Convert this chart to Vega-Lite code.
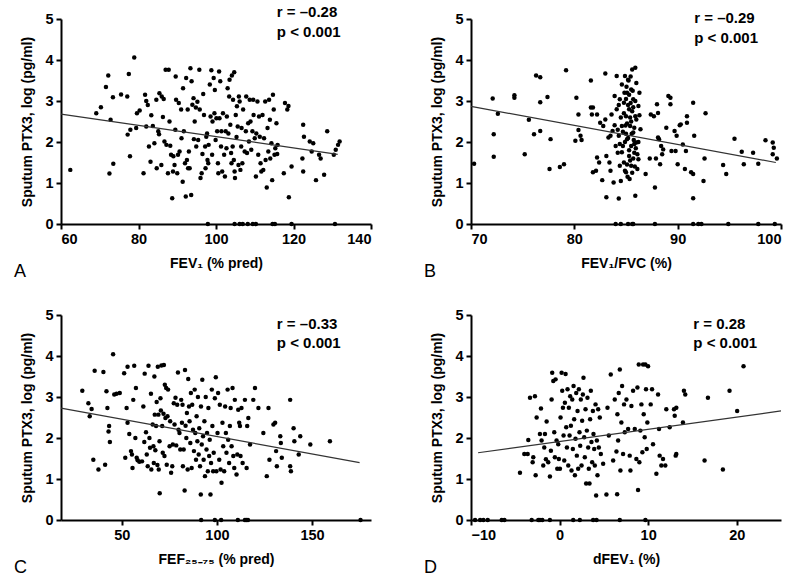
{
"$schema": "https://vega.github.io/schema/vega-lite/v6.json",
"background": "white",
"padding": {"left": 14, "top": 5, "right": 5, "bottom": 5},
"config": {
 "view": {"stroke": null},
 "axis": {"grid": false, "domainColor": "black", "domainWidth": 2, "tickColor": "black", "tickWidth": 2, "tickSize": 5,
  "labelFont": "Liberation Sans", "labelFontWeight": "bold", "labelFontSize": 14.5, "labelColor": "black", "labelPadding": 3,
  "titleFont": "Liberation Sans", "titleFontWeight": "bold", "titleFontSize": 14, "titleColor": "black"},
 "axisY": {"titlePadding": 10},
 "axisX": {"titlePadding": 11}
},
"datasets": {
 "a": [
{"x":62.4,"y":1.32},{"x":69.1,"y":2.70},{"x":70.3,"y":2.85},{"x":71.6,"y":3.34},{"x":72.2,"y":3.62},{"x":72.5,"y":1.23},{"x":72.8,"y":2.54},{"x":73.4,"y":3.09},{"x":73.5,"y":1.47},{"x":75.5,"y":3.16},{"x":77.1,"y":3.11},{"x":77.2,"y":2.18},{"x":77.5,"y":3.66},{"x":77.8,"y":1.65},{"x":77.9,"y":2.30},{"x":78.9,"y":4.06},{"x":79.4,"y":2.34},{"x":79.6,"y":2.70},{"x":80.3,"y":2.77},{"x":81.3,"y":1.24},{"x":81.7,"y":3.15},{"x":82.0,"y":3.00},{"x":82.0,"y":2.38},{"x":82.4,"y":2.90},{"x":82.7,"y":1.89},{"x":83.1,"y":1.52},{"x":83.3,"y":2.65},{"x":83.7,"y":2.39},{"x":84.1,"y":1.97},{"x":84.6,"y":3.03},{"x":84.7,"y":1.36},{"x":85.1,"y":2.26},{"x":85.3,"y":2.19},{"x":85.4,"y":3.19},{"x":85.9,"y":1.44},{"x":86.0,"y":3.11},{"x":86.3,"y":2.61},{"x":86.5,"y":3.05},{"x":86.7,"y":2.01},{"x":87.0,"y":3.76},{"x":87.2,"y":1.93},{"x":87.6,"y":1.24},{"x":87.8,"y":3.76},{"x":88.0,"y":2.50},{"x":88.2,"y":1.91},{"x":88.4,"y":1.69},{"x":88.7,"y":0.63},{"x":88.9,"y":1.28},{"x":89.0,"y":1.65},{"x":89.3,"y":1.44},{"x":89.5,"y":2.30},{"x":89.6,"y":3.60},{"x":89.7,"y":3.03},{"x":90.0,"y":1.24},{"x":90.2,"y":1.69},{"x":90.4,"y":2.95},{"x":90.6,"y":1.77},{"x":91.0,"y":2.79},{"x":91.1,"y":2.09},{"x":91.4,"y":1.03},{"x":91.5,"y":3.31},{"x":91.7,"y":2.26},{"x":92.0,"y":1.48},{"x":92.2,"y":0.67},{"x":92.3,"y":3.56},{"x":92.5,"y":1.56},{"x":92.7,"y":2.79},{"x":92.8,"y":1.36},{"x":93.0,"y":1.77},{"x":93.2,"y":1.36},{"x":93.4,"y":3.80},{"x":93.6,"y":0.71},{"x":93.7,"y":3.48},{"x":93.9,"y":2.91},{"x":94.2,"y":3.07},{"x":94.3,"y":2.07},{"x":94.5,"y":2.50},{"x":94.8,"y":2.84},{"x":94.9,"y":1.89},{"x":95.2,"y":2.98},{"x":95.4,"y":2.05},{"x":95.7,"y":3.76},{"x":95.8,"y":2.79},{"x":96.0,"y":1.12},{"x":96.3,"y":1.24},{"x":96.5,"y":1.71},{"x":96.7,"y":3.17},{"x":96.9,"y":2.66},{"x":97.2,"y":1.89},{"x":97.3,"y":1.36},{"x":97.5,"y":2.13},{"x":97.7,"y":2.21},{"x":97.8,"y":1.56},{"x":98.0,"y":1.48},{"x":98.1,"y":1.93},{"x":98.4,"y":3.40},{"x":98.6,"y":2.62},{"x":98.8,"y":3.75},{"x":99.0,"y":1.69},{"x":99.1,"y":2.50},{"x":99.4,"y":3.56},{"x":99.6,"y":2.70},{"x":99.7,"y":3.27},{"x":99.9,"y":2.05},{"x":100.1,"y":2.58},{"x":100.3,"y":2.26},{"x":100.5,"y":1.48},{"x":100.6,"y":1.24},{"x":100.8,"y":3.72},{"x":100.9,"y":2.58},{"x":101.1,"y":3.48},{"x":101.3,"y":1.89},{"x":101.4,"y":2.26},{"x":101.6,"y":1.28},{"x":101.8,"y":2.70},{"x":102.1,"y":1.69},{"x":102.3,"y":1.16},{"x":102.5,"y":2.26},{"x":102.7,"y":1.85},{"x":102.8,"y":2.62},{"x":103.0,"y":3.31},{"x":103.2,"y":2.21},{"x":103.4,"y":3.11},{"x":103.5,"y":3.52},{"x":103.7,"y":2.42},{"x":103.9,"y":1.73},{"x":104.0,"y":1.48},{"x":104.1,"y":3.62},{"x":104.3,"y":1.89},{"x":104.4,"y":3.03},{"x":104.6,"y":1.56},{"x":104.7,"y":3.70},{"x":104.8,"y":1.28},{"x":104.9,"y":1.12},{"x":105.1,"y":2.66},{"x":105.3,"y":2.12},{"x":105.4,"y":2.87},{"x":105.6,"y":2.38},{"x":105.8,"y":1.44},{"x":105.9,"y":3.11},{"x":106.1,"y":2.99},{"x":106.3,"y":1.32},{"x":106.5,"y":1.89},{"x":106.6,"y":2.34},{"x":106.8,"y":1.48},{"x":107.0,"y":2.79},{"x":107.4,"y":1.77},{"x":107.7,"y":2.26},{"x":107.8,"y":3.11},{"x":108.0,"y":1.73},{"x":108.3,"y":2.46},{"x":108.5,"y":2.01},{"x":108.7,"y":3.03},{"x":108.9,"y":2.50},{"x":109.1,"y":1.81},{"x":109.4,"y":2.26},{"x":109.6,"y":3.03},{"x":109.7,"y":2.66},{"x":110.0,"y":2.09},{"x":110.3,"y":1.16},{"x":110.4,"y":2.21},{"x":110.7,"y":2.99},{"x":110.9,"y":1.69},{"x":111.1,"y":2.62},{"x":111.3,"y":2.13},{"x":111.5,"y":1.48},{"x":111.7,"y":1.28},{"x":112.0,"y":2.66},{"x":112.2,"y":1.32},{"x":112.4,"y":2.09},{"x":112.7,"y":2.99},{"x":112.8,"y":1.56},{"x":113.1,"y":0.89},{"x":113.3,"y":2.34},{"x":113.5,"y":1.77},{"x":113.7,"y":3.03},{"x":113.9,"y":2.54},{"x":114.0,"y":1.60},{"x":114.3,"y":1.97},{"x":114.5,"y":1.07},{"x":114.7,"y":3.15},{"x":114.9,"y":2.79},{"x":115.1,"y":1.69},{"x":115.3,"y":1.85},{"x":115.6,"y":2.46},{"x":115.8,"y":1.71},{"x":115.9,"y":1.93},{"x":117.5,"y":1.24},{"x":117.8,"y":2.95},{"x":118.4,"y":2.79},{"x":118.7,"y":2.88},{"x":118.8,"y":0.65},{"x":119.5,"y":1.40},{"x":122.3,"y":1.60},{"x":122.5,"y":2.42},{"x":122.5,"y":1.28},{"x":122.7,"y":2.13},{"x":124.2,"y":2.01},{"x":125.1,"y":1.97},{"x":124.7,"y":1.77},{"x":125.8,"y":1.07},{"x":126.6,"y":1.69},{"x":127.0,"y":1.60},{"x":127.9,"y":1.20},{"x":128.7,"y":2.26},{"x":130.4,"y":1.69},{"x":130.9,"y":1.81},{"x":131.5,"y":1.93},{"x":131.9,"y":2.01},
{"x":97.9,"y":0},{"x":104.8,"y":0},{"x":106.1,"y":0},{"x":106.9,"y":0},{"x":108.2,"y":0},{"x":109.5,"y":0},{"x":110.3,"y":0},{"x":114.6,"y":0},{"x":115.2,"y":0},{"x":119.5,"y":0},{"x":130.7,"y":0}
 ],
 "a_fit": [{"x":60,"y":2.68},{"x":131.4,"y":1.70}],
 "a_note": [{"x":115.7,"y":5.16,"label":"r = –0.28"},{"x":115.7,"y":4.69,"label":"p < 0.001"}],
 "b": [
{"x":70.3,"y":1.47},{"x":72.1,"y":3.06},{"x":72.2,"y":2.19},{"x":72.2,"y":1.64},{"x":72.6,"y":2.69},{"x":74.2,"y":3.14},{"x":74.2,"y":3.08},{"x":75.2,"y":1.70},{"x":75.6,"y":2.54},{"x":76.3,"y":3.62},{"x":76.7,"y":3.58},{"x":76.7,"y":2.27},{"x":76.7,"y":2.97},{"x":76.1,"y":2.19},{"x":77.4,"y":3.10},{"x":77.6,"y":1.34},{"x":77.7,"y":2.07},{"x":78.6,"y":1.39},{"x":79.0,"y":1.46},{"x":79.2,"y":3.75},{"x":80.1,"y":2.03},{"x":80.2,"y":3.08},{"x":80.4,"y":2.67},{"x":80.4,"y":2.29},{"x":80.6,"y":2.15},{"x":80.7,"y":2.05},{"x":81.6,"y":3.50},{"x":81.6,"y":2.84},{"x":81.7,"y":2.67},{"x":81.8,"y":1.26},{"x":81.8,"y":2.84},{"x":82.1,"y":1.30},{"x":82.2,"y":2.67},{"x":82.2,"y":1.62},{"x":82.4,"y":1.50},{"x":82.5,"y":2.47},{"x":82.7,"y":1.07},{"x":82.8,"y":2.39},{"x":83.0,"y":2.55},{"x":83.0,"y":3.67},{"x":83.1,"y":0.65},{"x":83.1,"y":1.66},{"x":83.3,"y":2.11},{"x":83.4,"y":1.50},{"x":83.5,"y":1.30},{"x":83.5,"y":2.15},{"x":83.6,"y":2.67},{"x":83.7,"y":2.27},{"x":83.8,"y":1.01},{"x":83.9,"y":3.12},{"x":83.9,"y":2.41},{"x":84.0,"y":1.90},{"x":84.1,"y":3.61},{"x":84.1,"y":2.80},{"x":84.2,"y":1.74},{"x":84.3,"y":0.62},{"x":84.3,"y":2.15},{"x":84.4,"y":1.42},{"x":84.4,"y":3.04},{"x":84.5,"y":1.05},{"x":84.6,"y":3.40},{"x":84.6,"y":2.39},{"x":84.7,"y":1.90},{"x":84.8,"y":2.96},{"x":84.8,"y":1.50},{"x":84.9,"y":3.61},{"x":85.0,"y":2.63},{"x":85.0,"y":1.26},{"x":85.1,"y":3.20},{"x":85.1,"y":2.07},{"x":85.2,"y":3.52},{"x":85.3,"y":2.80},{"x":85.3,"y":1.66},{"x":85.4,"y":2.39},{"x":85.5,"y":3.28},{"x":85.5,"y":1.42},{"x":85.6,"y":3.77},{"x":85.7,"y":2.23},{"x":85.7,"y":3.04},{"x":85.8,"y":1.74},{"x":85.9,"y":3.81},{"x":85.9,"y":0.69},{"x":85.9,"y":2.63},{"x":86.0,"y":3.44},{"x":86.0,"y":1.99},{"x":86.1,"y":1.34},{"x":86.2,"y":2.88},{"x":86.2,"y":1.58},{"x":86.3,"y":3.20},{"x":86.4,"y":2.31},
{"x":84.9,"y":2.0},{"x":85.0,"y":2.2},{"x":85.1,"y":2.45},{"x":85.2,"y":2.9},{"x":85.3,"y":1.8},{"x":85.4,"y":2.6},{"x":85.5,"y":1.9},{"x":85.6,"y":2.75},{"x":85.7,"y":1.6},{"x":85.8,"y":2.35},{"x":84.8,"y":2.7},{"x":84.9,"y":1.3},{"x":85.0,"y":3.05},{"x":85.1,"y":1.45},{"x":85.2,"y":2.1},{"x":85.3,"y":3.15},{"x":85.4,"y":1.55},{"x":85.5,"y":2.5},{"x":85.6,"y":1.25},{"x":85.7,"y":2.85},{"x":85.8,"y":1.95},{"x":85.9,"y":3.0},{"x":86.0,"y":2.55},{"x":86.1,"y":1.7},{"x":84.7,"y":2.25},{"x":84.6,"y":1.75},{"x":84.5,"y":2.6},{"x":84.4,"y":1.95},{"x":84.3,"y":2.9},{"x":84.2,"y":2.3},{"x":85.05,"y":3.35},{"x":85.25,"y":3.5},{"x":85.45,"y":2.95},{"x":85.65,"y":3.25},{"x":85.15,"y":1.15},{"x":85.35,"y":1.1},{"x":85.55,"y":2.2},{"x":85.75,"y":2.05},{"x":84.95,"y":2.4},{"x":85.85,"y":1.4},{"x":86.2,"y":2.0},{"x":86.3,"y":2.65},{"x":85.95,"y":1.85},{"x":84.85,"y":3.2},{"x":85.45,"y":3.6},
{"x":86.9,"y":1.22},{"x":87.3,"y":1.60},{"x":87.4,"y":2.67},{"x":87.7,"y":2.63},{"x":87.8,"y":0.89},{"x":87.9,"y":1.60},{"x":88.0,"y":2.92},{"x":88.1,"y":2.71},{"x":88.1,"y":2.11},{"x":88.2,"y":2.07},{"x":88.3,"y":1.46},{"x":88.4,"y":1.90},{"x":88.5,"y":1.70},{"x":88.6,"y":1.82},{"x":88.9,"y":2.35},{"x":89.1,"y":3.12},{"x":89.3,"y":3.08},{"x":89.3,"y":2.92},{"x":89.4,"y":1.78},{"x":89.7,"y":2.27},{"x":89.8,"y":1.78},{"x":89.9,"y":2.15},{"x":90.0,"y":1.46},{"x":90.2,"y":2.41},{"x":90.3,"y":2.43},{"x":90.5,"y":1.94},{"x":90.7,"y":1.34},{"x":90.8,"y":1.78},{"x":90.9,"y":2.47},{"x":90.9,"y":2.63},{"x":91.3,"y":1.26},{"x":91.5,"y":1.22},{"x":91.5,"y":0.63},{"x":91.5,"y":2.96},{"x":91.6,"y":2.15},{"x":92.5,"y":1.05},{"x":92.6,"y":1.60},{"x":92.7,"y":2.70},{"x":94.4,"y":1.44},{"x":94.7,"y":1.22},{"x":95.5,"y":2.08},{"x":96.2,"y":1.76},{"x":96.4,"y":1.46},{"x":97.3,"y":1.74},{"x":97.8,"y":1.47},{"x":98.5,"y":2.04},{"x":99.2,"y":1.70},{"x":99.2,"y":1.99},{"x":99.3,"y":1.86},{"x":99.6,"y":1.60},
{"x":84.0,"y":0},{"x":84.5,"y":0},{"x":85.2,"y":0},{"x":85.6,"y":0},{"x":85.7,"y":0},{"x":87.8,"y":0},{"x":91.5,"y":0},{"x":92.0,"y":0},{"x":92.3,"y":0},{"x":94.9,"y":0},{"x":97.8,"y":0},{"x":99.4,"y":0}
 ],
 "b_fit": [{"x":70,"y":2.87},{"x":99.5,"y":1.50}],
 "b_note": [{"x":91.6,"y":5.02,"label":"r = –0.29"},{"x":91.6,"y":4.53,"label":"p < 0.001"}],
 "c": [
{"x":29.2,"y":3.15},{"x":32.4,"y":2.85},{"x":33.1,"y":2.53},{"x":34.1,"y":2.71},{"x":35.0,"y":1.47},{"x":35.7,"y":3.64},{"x":37.7,"y":1.23},{"x":40.3,"y":3.61},{"x":41.2,"y":1.35},{"x":41.9,"y":3.14},{"x":42.4,"y":2.73},{"x":43.0,"y":2.16},{"x":43.3,"y":2.29},{"x":43.7,"y":1.90},{"x":45.4,"y":4.04},{"x":46.0,"y":3.06},{"x":47.2,"y":3.08},{"x":48.9,"y":3.10},{"x":51.2,"y":3.58},{"x":51.8,"y":1.52},{"x":52.5,"y":2.73},{"x":53.0,"y":2.37},{"x":53.0,"y":3.74},{"x":53.9,"y":2.10},{"x":54.8,"y":1.68},{"x":55.3,"y":1.60},{"x":55.6,"y":1.27},{"x":56.0,"y":2.93},{"x":56.5,"y":3.76},{"x":57.1,"y":2.00},{"x":57.4,"y":3.22},{"x":57.8,"y":1.52},{"x":58.3,"y":1.46},{"x":59.2,"y":1.42},{"x":60.6,"y":1.43},{"x":61.3,"y":2.77},{"x":61.8,"y":1.90},{"x":62.0,"y":3.57},{"x":62.7,"y":2.14},{"x":63.1,"y":1.60},{"x":63.6,"y":1.31},{"x":64.0,"y":3.76},{"x":64.5,"y":2.00},{"x":64.8,"y":1.76},{"x":65.3,"y":3.08},{"x":65.5,"y":1.23},{"x":66.2,"y":2.33},{"x":66.6,"y":1.80},{"x":66.8,"y":1.39},{"x":67.1,"y":3.50},{"x":67.3,"y":2.57},{"x":67.6,"y":1.70},{"x":68.0,"y":2.29},{"x":68.3,"y":2.88},{"x":68.7,"y":1.34},{"x":68.9,"y":3.74},{"x":69.2,"y":2.57},{"x":69.4,"y":1.23},{"x":69.8,"y":1.92},{"x":69.9,"y":0.65},{"x":70.3,"y":2.97},{"x":70.5,"y":2.67},{"x":70.8,"y":3.77},{"x":71.2,"y":2.29},{"x":71.5,"y":1.64},{"x":71.9,"y":2.59},{"x":72.1,"y":3.78},{"x":72.4,"y":1.56},{"x":72.6,"y":3.30},{"x":72.9,"y":2.49},{"x":73.3,"y":3.22},{"x":73.6,"y":1.35},{"x":74.0,"y":2.53},{"x":74.3,"y":3.18},{"x":75.1,"y":1.80},{"x":75.4,"y":2.41},{"x":75.9,"y":1.15},{"x":76.5,"y":1.31},{"x":76.8,"y":1.84},{"x":77.3,"y":2.85},{"x":77.7,"y":2.33},{"x":78.2,"y":2.98},{"x":78.6,"y":1.82},{"x":79.1,"y":2.81},{"x":79.5,"y":3.60},{"x":79.8,"y":2.20},{"x":80.3,"y":2.12},{"x":80.7,"y":1.72},{"x":81.2,"y":2.93},{"x":81.6,"y":2.37},{"x":81.9,"y":2.81},{"x":82.1,"y":1.31},{"x":82.5,"y":1.72},{"x":83.0,"y":0.72},{"x":83.2,"y":3.66},{"x":83.5,"y":2.30},{"x":83.9,"y":2.00},{"x":84.2,"y":2.61},{"x":84.6,"y":1.23},{"x":84.9,"y":3.44},{"x":85.3,"y":2.77},{"x":85.6,"y":2.41},{"x":86.0,"y":1.88},{"x":86.3,"y":3.10},{"x":86.7,"y":1.27},{"x":87.0,"y":2.81},{"x":87.4,"y":2.20},{"x":87.9,"y":1.68},{"x":88.3,"y":3.18},{"x":88.6,"y":2.12},{"x":89.0,"y":1.47},{"x":89.3,"y":2.53},{"x":89.7,"y":1.92},{"x":90.0,"y":3.00},{"x":90.4,"y":1.60},{"x":90.7,"y":2.24},{"x":91.1,"y":1.31},{"x":91.5,"y":0.62},{"x":91.6,"y":2.77},{"x":92.0,"y":1.84},{"x":92.3,"y":3.42},{"x":92.7,"y":2.04},{"x":93.0,"y":1.47},{"x":93.4,"y":2.41},{"x":93.7,"y":1.07},{"x":94.1,"y":3.00},{"x":94.5,"y":1.72},{"x":94.8,"y":2.12},{"x":95.2,"y":1.19},{"x":95.5,"y":2.73},{"x":95.9,"y":1.56},{"x":96.2,"y":1.96},{"x":96.6,"y":0.62},{"x":96.9,"y":1.39},{"x":97.3,"y":3.18},{"x":97.6,"y":2.29},{"x":98.0,"y":1.19},{"x":98.3,"y":1.64},{"x":98.9,"y":2.97},{"x":99.4,"y":3.48},{"x":99.7,"y":1.19},{"x":100.3,"y":2.12},{"x":100.6,"y":3.10},{"x":101.2,"y":1.47},{"x":101.5,"y":2.81},{"x":101.9,"y":1.23},{"x":102.4,"y":0.91},{"x":102.9,"y":2.37},{"x":103.3,"y":1.80},{"x":103.8,"y":1.19},{"x":104.3,"y":2.77},{"x":104.7,"y":2.12},{"x":105.0,"y":1.64},{"x":105.6,"y":3.18},{"x":105.9,"y":1.96},{"x":106.4,"y":1.39},{"x":106.8,"y":2.29},{"x":107.2,"y":2.73},{"x":107.7,"y":1.80},{"x":108.2,"y":3.22},{"x":108.6,"y":1.56},{"x":109.1,"y":1.27},{"x":109.4,"y":2.93},{"x":110.3,"y":1.11},{"x":110.7,"y":1.60},{"x":111.2,"y":2.69},{"x":111.7,"y":2.37},{"x":112.1,"y":2.29},{"x":112.4,"y":1.56},{"x":112.9,"y":2.73},{"x":113.5,"y":1.39},{"x":114.7,"y":2.93},{"x":115.6,"y":1.27},{"x":115.9,"y":2.29},{"x":116.5,"y":2.49},{"x":117.4,"y":1.84},{"x":119.1,"y":2.93},{"x":120.0,"y":3.22},{"x":121.8,"y":2.73},{"x":124.4,"y":2.12},{"x":126.2,"y":1.07},{"x":127.1,"y":2.73},{"x":127.6,"y":1.47},{"x":129.7,"y":2.33},{"x":130.6,"y":2.37},{"x":131.1,"y":1.68},{"x":131.5,"y":1.31},{"x":133.3,"y":2.04},{"x":133.6,"y":1.88},{"x":134.1,"y":1.52},{"x":138.5,"y":2.93},{"x":138.5,"y":1.31},{"x":138.9,"y":1.19},{"x":140.3,"y":2.24},{"x":140.7,"y":1.92},{"x":143.0,"y":1.60},{"x":143.8,"y":2.04},{"x":149.1,"y":1.84},{"x":159.4,"y":1.92},
{"x":91.7,"y":0},{"x":98.9,"y":0},{"x":102.2,"y":0},{"x":111.0,"y":0},{"x":114.7,"y":0},{"x":115.4,"y":0},{"x":116.3,"y":0},{"x":175.5,"y":0}
 ],
 "c_fit": [{"x":18,"y":2.73},{"x":175,"y":1.40}],
 "c_note": [{"x":131.5,"y":4.78,"label":"r = –0.33"},{"x":131.5,"y":4.32,"label":"p < 0.001"}],
 "d": [
{"x":-4.47,"y":1.15},{"x":-3.98,"y":1.61},{"x":-3.60,"y":1.61},{"x":-3.53,"y":1.95},{"x":-3.34,"y":2.98},{"x":-3.04,"y":1.41},{"x":-2.97,"y":1.53},{"x":-2.78,"y":3.02},{"x":-2.70,"y":1.09},{"x":-2.59,"y":2.50},{"x":-2.22,"y":2.10},{"x":-2.10,"y":2.72},{"x":-2.03,"y":1.94},{"x":-1.84,"y":1.33},{"x":-1.73,"y":1.77},{"x":-1.65,"y":2.10},{"x":-1.54,"y":1.48},{"x":-1.46,"y":2.40},{"x":-1.28,"y":1.41},{"x":-1.09,"y":1.06},{"x":-0.98,"y":1.69},{"x":-0.90,"y":2.94},{"x":-0.83,"y":3.59},{"x":-0.71,"y":3.39},{"x":-0.60,"y":2.14},{"x":-0.53,"y":1.53},{"x":-0.45,"y":3.43},{"x":-0.34,"y":1.94},{"x":-0.26,"y":1.25},{"x":-0.15,"y":1.85},{"x":-0.08,"y":1.49},{"x":0.04,"y":1.25},{"x":0.11,"y":2.50},{"x":0.23,"y":3.59},{"x":0.30,"y":3.15},{"x":0.38,"y":2.74},{"x":0.45,"y":2.06},{"x":0.53,"y":1.45},{"x":0.60,"y":2.86},{"x":0.68,"y":3.56},{"x":0.75,"y":2.26},{"x":0.83,"y":1.77},{"x":0.90,"y":3.19},{"x":0.98,"y":1.33},{"x":1.05,"y":2.74},{"x":1.13,"y":2.06},{"x":1.20,"y":3.02},{"x":1.28,"y":2.30},{"x":1.35,"y":1.21},{"x":1.43,"y":2.94},{"x":1.50,"y":1.73},{"x":1.58,"y":3.27},{"x":1.65,"y":2.46},{"x":1.73,"y":1.09},{"x":1.80,"y":1.98},{"x":1.88,"y":3.10},{"x":1.95,"y":1.57},{"x":2.03,"y":2.66},{"x":2.10,"y":1.25},{"x":2.18,"y":3.19},{"x":2.25,"y":2.14},{"x":2.33,"y":1.81},{"x":2.40,"y":2.94},{"x":2.48,"y":1.33},{"x":2.55,"y":2.42},{"x":2.63,"y":3.06},{"x":2.70,"y":3.47},{"x":2.78,"y":2.02},{"x":2.85,"y":1.53},{"x":2.93,"y":2.70},{"x":3.00,"y":0.89},{"x":3.08,"y":2.18},{"x":3.15,"y":2.98},{"x":3.23,"y":1.77},{"x":3.30,"y":1.25},{"x":3.38,"y":0.89},{"x":3.45,"y":2.46},{"x":3.53,"y":3.15},{"x":3.60,"y":1.90},{"x":3.68,"y":1.41},{"x":3.76,"y":2.66},{"x":3.83,"y":2.10},{"x":3.91,"y":1.73},{"x":3.98,"y":1.33},{"x":4.06,"y":2.82},{"x":4.13,"y":0.60},{"x":4.21,"y":1.94},{"x":4.28,"y":1.09},{"x":4.36,"y":2.70},{"x":4.43,"y":1.77},{"x":4.54,"y":2.50},{"x":4.66,"y":1.61},{"x":4.92,"y":1.37},{"x":5.29,"y":0.62},{"x":5.41,"y":2.74},{"x":5.56,"y":2.06},{"x":5.78,"y":3.55},{"x":6.05,"y":1.45},{"x":6.23,"y":2.94},{"x":6.42,"y":1.67},{"x":6.50,"y":0.63},{"x":6.53,"y":2.58},{"x":6.61,"y":1.94},{"x":6.68,"y":3.10},{"x":6.80,"y":3.67},{"x":6.87,"y":1.21},{"x":6.98,"y":2.38},{"x":7.06,"y":3.27},{"x":7.17,"y":1.61},{"x":7.28,"y":2.82},{"x":7.36,"y":2.14},{"x":7.55,"y":2.94},{"x":7.74,"y":2.22},{"x":7.92,"y":1.57},{"x":8.00,"y":1.21},{"x":8.11,"y":2.78},{"x":8.30,"y":3.15},{"x":8.49,"y":2.22},{"x":8.67,"y":1.49},{"x":8.79,"y":3.23},{"x":8.86,"y":0.73},{"x":8.94,"y":3.79},{"x":9.01,"y":1.41},{"x":9.12,"y":2.18},{"x":9.24,"y":2.82},{"x":9.35,"y":1.65},{"x":9.43,"y":3.79},{"x":9.50,"y":2.58},{"x":9.61,"y":2.02},{"x":9.69,"y":3.79},{"x":9.76,"y":3.19},{"x":9.84,"y":1.73},{"x":9.91,"y":2.38},{"x":9.99,"y":3.75},{"x":10.29,"y":2.82},{"x":10.44,"y":3.19},{"x":10.55,"y":1.85},{"x":10.93,"y":1.13},{"x":11.12,"y":3.06},{"x":11.23,"y":2.22},{"x":11.30,"y":1.57},{"x":11.49,"y":1.33},{"x":11.68,"y":1.49},{"x":11.94,"y":1.33},{"x":12.05,"y":2.70},{"x":12.43,"y":2.26},{"x":12.92,"y":2.70},{"x":13.00,"y":2.54},{"x":13.11,"y":1.57},{"x":13.18,"y":1.61},{"x":13.18,"y":2.74},{"x":13.93,"y":2.38},{"x":14.04,"y":3.15},{"x":14.19,"y":3.06},{"x":16.37,"y":1.45},{"x":16.75,"y":2.98},{"x":18.44,"y":1.23},{"x":19.19,"y":3.15},{"x":20.05,"y":2.66},{"x":20.77,"y":3.75},
{"x":-9.54,"y":0},{"x":-8.97,"y":0},{"x":-8.60,"y":0},{"x":-8.11,"y":0},{"x":-6.53,"y":0},{"x":-6.23,"y":0},{"x":-3.15,"y":0},{"x":-2.40,"y":0},{"x":-2.22,"y":0},{"x":-1.95,"y":0},{"x":-1.09,"y":0},{"x":1.54,"y":0},{"x":2.29,"y":0},{"x":3.79,"y":0},{"x":4.17,"y":0},{"x":6.80,"y":0},{"x":9.69,"y":0}
 ],
 "d_fit": [{"x":-9.2,"y":1.64},{"x":25,"y":2.66}],
 "d_note": [{"x":15.1,"y":4.78,"label":"r = 0.28"},{"x":15.1,"y":4.32,"label":"p < 0.001"}]
},
"columns": 2,
"spacing": {"row": 91, "column": 100},
"bounds": "flush",
"concat": [
 {"width": 310, "height": 205,
  "title": {"text": "A", "orient": "bottom", "anchor": "start", "frame": "group", "dx": -47, "offset": -8, "fontSize": 18, "fontWeight": "normal", "font": "Liberation Sans", "color": "black"},
  "layer": [
   {"data": {"name": "a"}, "mark": {"type": "circle", "size": 20, "color": "black", "opacity": 1},
    "encoding": {"x": {"field": "x", "type": "quantitative", "scale": {"domain": [60, 140], "nice": false, "zero": false}, "axis": {"title": "FEV₁ (% pred)", "values": [60, 80, 100, 120, 140]}},
                 "y": {"field": "y", "type": "quantitative", "scale": {"domain": [0, 5], "nice": false}, "axis": {"title": "Sputum PTX3, log (pg/ml)", "values": [0, 1, 2, 3, 4, 5]}}}},
   {"data": {"name": "a_fit"}, "mark": {"type": "line", "color": "#333333", "strokeWidth": 1.2},
    "encoding": {"x": {"field": "x", "type": "quantitative"}, "y": {"field": "y", "type": "quantitative"}}},
   {"data": {"name": "a_note"}, "mark": {"type": "text", "align": "left", "baseline": "middle", "fontSize": 15, "fontWeight": "bold", "font": "Liberation Sans", "color": "black"},
    "encoding": {"x": {"field": "x", "type": "quantitative"}, "y": {"field": "y", "type": "quantitative"}, "text": {"field": "label"}}}
  ]},
 {"width": 310, "height": 205,
  "title": {"text": "B", "orient": "bottom", "anchor": "start", "frame": "group", "dx": -47, "offset": -8, "fontSize": 18, "fontWeight": "normal", "font": "Liberation Sans", "color": "black"},
  "layer": [
   {"data": {"name": "b"}, "mark": {"type": "circle", "size": 20, "color": "black", "opacity": 1},
    "encoding": {"x": {"field": "x", "type": "quantitative", "scale": {"domain": [70, 100], "nice": false, "zero": false}, "axis": {"title": "FEV₁/FVC (%)", "values": [70, 80, 90, 100]}},
                 "y": {"field": "y", "type": "quantitative", "scale": {"domain": [0, 5], "nice": false}, "axis": {"title": "Sputum PTX3, log (pg/ml)", "values": [0, 1, 2, 3, 4, 5]}}}},
   {"data": {"name": "b_fit"}, "mark": {"type": "line", "color": "#333333", "strokeWidth": 1.2},
    "encoding": {"x": {"field": "x", "type": "quantitative"}, "y": {"field": "y", "type": "quantitative"}}},
   {"data": {"name": "b_note"}, "mark": {"type": "text", "align": "left", "baseline": "middle", "fontSize": 15, "fontWeight": "bold", "font": "Liberation Sans", "color": "black"},
    "encoding": {"x": {"field": "x", "type": "quantitative"}, "y": {"field": "y", "type": "quantitative"}, "text": {"field": "label"}}}
  ]},
 {"width": 310, "height": 205,
  "title": {"text": "C", "orient": "bottom", "anchor": "start", "frame": "group", "dx": -47, "offset": -8, "fontSize": 18, "fontWeight": "normal", "font": "Liberation Sans", "color": "black"},
  "layer": [
   {"data": {"name": "c"}, "mark": {"type": "circle", "size": 20, "color": "black", "opacity": 1},
    "encoding": {"x": {"field": "x", "type": "quantitative", "scale": {"domain": [18, 181], "nice": false, "zero": false}, "axis": {"title": "FEF₂₅₋₇₅ (% pred)", "values": [50, 100, 150]}},
                 "y": {"field": "y", "type": "quantitative", "scale": {"domain": [0, 5], "nice": false}, "axis": {"title": "Sputum PTX3, log (pg/ml)", "values": [0, 1, 2, 3, 4, 5]}}}},
   {"data": {"name": "c_fit"}, "mark": {"type": "line", "color": "#333333", "strokeWidth": 1.2},
    "encoding": {"x": {"field": "x", "type": "quantitative"}, "y": {"field": "y", "type": "quantitative"}}},
   {"data": {"name": "c_note"}, "mark": {"type": "text", "align": "left", "baseline": "middle", "fontSize": 15, "fontWeight": "bold", "font": "Liberation Sans", "color": "black"},
    "encoding": {"x": {"field": "x", "type": "quantitative"}, "y": {"field": "y", "type": "quantitative"}, "text": {"field": "label"}}}
  ]},
 {"width": 310, "height": 205,
  "title": {"text": "D", "orient": "bottom", "anchor": "start", "frame": "group", "dx": -47, "offset": -8, "fontSize": 18, "fontWeight": "normal", "font": "Liberation Sans", "color": "black"},
  "layer": [
   {"data": {"name": "d"}, "mark": {"type": "circle", "size": 20, "color": "black", "opacity": 1},
    "encoding": {"x": {"field": "x", "type": "quantitative", "scale": {"domain": [-10, 25], "nice": false, "zero": false}, "axis": {"title": "dFEV₁ (%)", "values": [-10, 0, 10, 20]}},
                 "y": {"field": "y", "type": "quantitative", "scale": {"domain": [0, 5], "nice": false}, "axis": {"title": "Sputum PTX3, log (pg/ml)", "values": [0, 1, 2, 3, 4, 5]}}}},
   {"data": {"name": "d_fit"}, "mark": {"type": "line", "color": "#333333", "strokeWidth": 1.2},
    "encoding": {"x": {"field": "x", "type": "quantitative"}, "y": {"field": "y", "type": "quantitative"}}},
   {"data": {"name": "d_note"}, "mark": {"type": "text", "align": "left", "baseline": "middle", "fontSize": 15, "fontWeight": "bold", "font": "Liberation Sans", "color": "black"},
    "encoding": {"x": {"field": "x", "type": "quantitative"}, "y": {"field": "y", "type": "quantitative"}, "text": {"field": "label"}}}
  ]}
]
}
